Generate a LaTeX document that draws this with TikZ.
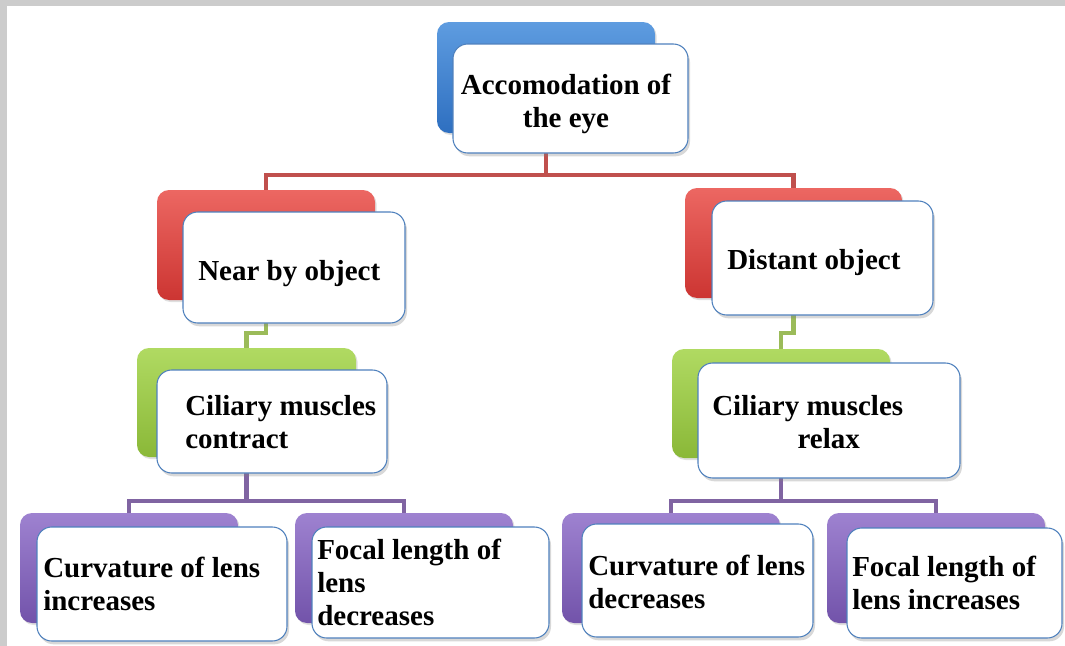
\documentclass[tikz,border=0pt]{standalone}
\usepackage{fontspec}
\setmainfont{Liberation Serif}
\usetikzlibrary{shadows,fit,backgrounds}
\definecolor{framegray}{HTML}{CCCCCC}
\definecolor{bluetop}{HTML}{5E9CE0}
\definecolor{bluebot}{HTML}{2E6FC0}
\definecolor{redtop}{HTML}{EC6762}
\definecolor{redbot}{HTML}{CC3532}
\definecolor{greentop}{HTML}{B0DA62}
\definecolor{greenbot}{HTML}{8AB838}
\definecolor{purpletop}{HTML}{9E82D0}
\definecolor{purplebot}{HTML}{7253AA}
\definecolor{redconn}{HTML}{C0504D}
\definecolor{greenconn}{HTML}{9BBB59}
\definecolor{purpleconn}{HTML}{8064A2}
\definecolor{frontline}{HTML}{4F81BD}
\begin{document}
\begin{tikzpicture}[x=0.75pt,y=-0.75pt,
  backbox/.style={rounded corners=9pt, inner sep=0pt, draw=none,
    drop shadow={shadow xshift=1.2pt, shadow yshift=-1.5pt, opacity=0.25}},
  bluebox/.style={backbox, top color=bluetop, bottom color=bluebot},
  redbox/.style={backbox, top color=redtop, bottom color=redbot},
  greenbox/.style={backbox, top color=greentop, bottom color=greenbot},
  purplebox/.style={backbox, top color=purpletop, bottom color=purplebot},
  frontbox/.style={rounded corners=11pt, inner sep=0pt, fill=white, draw=frontline, line width=0.8pt,
    drop shadow={shadow xshift=1.5pt, shadow yshift=-2.5pt, opacity=0.3}},
  lbl/.style={font=\fontsize{21.75pt}{24.5pt}\selectfont\bfseries, inner sep=0pt, align=left, anchor=base west},
  conn/.style={line width=3.2pt},
]
\useasboundingbox (0,0) rectangle (1065,646);

\coordinate (rj) at (0,175);
\coordinate (gj) at (0,333);
\coordinate (pj) at (0,501);

% top
\node[bluebox, fit={(437,22) (655,133)}] (topb) {};
\node[frontbox, fit={(453,44) (688,153)}] (topf) {};
\node[lbl, align=center, anchor=base] (topt) at (566,127) {Accomodation of\\the eye};

% level 2
\node[redbox, fit={(157,190) (375,300)}] (nearb) {};
\node[frontbox, fit={(183,212) (405,323)}] (nearf) {};
\node[lbl] (neart) at (198,280) {Near by object};

\node[redbox, fit={(685,188) (902,298)}] (distb) {};
\node[frontbox, fit={(712,201) (933,315)}] (distf) {};
\node[lbl] (distt) at (727,269) {Distant object};

% level 3
\node[greenbox, fit={(137,348) (356,457)}] (cilLb) {};
\node[frontbox, fit={(157,370) (387,473)}] (cilLf) {};
\node[lbl] (cilLt) at (185,448) {Ciliary muscles\\contract};

\node[greenbox, fit={(672,349) (890,458)}] (cilRb) {};
\node[frontbox, fit={(698,363) (960,478)}] (cilRf) {};
\node[lbl] (cilRt) at (712,448) {Ciliary muscles\\\hspace*{64pt}relax};

% level 4
\node[purplebox, fit={(20,513) (238,623)}] (curLb) {};
\node[frontbox, fit={(37,527) (287,641)}] (curLf) {};
\node[lbl] (curLt) at (43,610) {Curvature of lens\\increases};

\node[purplebox, fit={(295,513) (513,623)}] (focLb) {};
\node[frontbox, fit={(312,527) (549,638)}] (focLf) {};
\node[lbl] (focLt) at (317,625) {Focal length of\\lens\\decreases};

\node[purplebox, fit={(562,513) (780,623)}] (curRb) {};
\node[frontbox, fit={(582,524) (813,637)}] (curRf) {};
\node[lbl] (curRt) at (588,608) {Curvature of lens\\decreases};

\node[purplebox, fit={(827,513) (1045,623)}] (focRb) {};
\node[frontbox, fit={(847,528) (1062,638)}] (focRf) {};
\node[lbl] (focRt) at (852,609) {Focal length of\\lens increases};

\begin{scope}[on background layer]
  \fill[white] (0,0) rectangle (1065,646);
  \fill[framegray] (0,0) rectangle (1065,6);
  \fill[framegray] (0,0) rectangle (7,646);
  \draw[conn, draw=redconn] (topb.center) -- (topb.center |- rj) -| (nearb.center);
  \draw[conn, draw=redconn] (topb.center |- rj) -| (distb.center);
  \draw[conn, draw=greenconn] (nearb.center) -- (nearb.center |- gj) -| (cilLb.center);
  \draw[conn, draw=greenconn] (distb.center) -- (distb.center |- gj) -| (cilRb.center);
  \draw[conn, draw=purpleconn] (cilLb.center) -- (cilLb.center |- pj) -| (curLb.center);
  \draw[conn, draw=purpleconn] (cilLb.center |- pj) -| (focLb.center);
  \draw[conn, draw=purpleconn] (cilRb.center) -- (cilRb.center |- pj) -| (curRb.center);
  \draw[conn, draw=purpleconn] (cilRb.center |- pj) -| (focRb.center);
\end{scope}
\end{tikzpicture}
\end{document}
